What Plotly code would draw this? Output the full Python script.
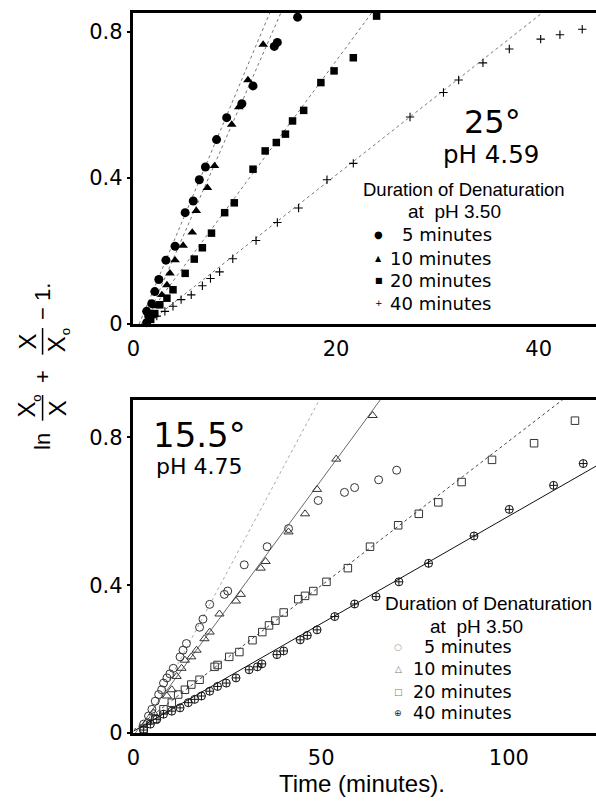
import plotly.graph_objects as go

W, H = 596, 810

# ---------------- 25 deg, pH 4.59 ----------------
t25_5min_x = [1.3, 1.5, 1.3, 1.8, 2.1, 2.5, 3.2, 4.1, 5.1, 5.9, 6.5, 7.1, 8.2, 9.2, 10.7, 11.8, 13.9, 14.2, 16.2, 17.3]
t25_5min_y = [0.004, 0.022, 0.035, 0.056, 0.089, 0.122, 0.175, 0.213, 0.305, 0.337, 0.395, 0.43, 0.505, 0.565, 0.603, 0.652, 0.76, 0.771, 0.84, 0.855]

t25_10min_x = [1.8, 2.3, 2.8, 3.3, 3.6, 4.1, 4.9, 5.8, 6.2, 7.3, 8.0, 9.7, 10.4, 11.3, 12.8]
t25_10min_y = [0.022, 0.049, 0.08, 0.107, 0.139, 0.175, 0.215, 0.251, 0.31, 0.373, 0.433, 0.546, 0.594, 0.668, 0.765]

t25_20min_x = [1.7, 2.1, 2.6, 3.3, 3.9, 5.1, 6.0, 6.8, 7.7, 9.0, 9.95, 11.8, 13.0, 14.1, 15.0, 15.7, 16.8, 18.5, 19.8, 21.7, 24.0]
t25_20min_y = [0.013, 0.029, 0.053, 0.071, 0.094, 0.139, 0.178, 0.209, 0.249, 0.305, 0.332, 0.424, 0.474, 0.497, 0.52, 0.556, 0.585, 0.661, 0.693, 0.729, 0.843]

t25_40min_x = [2.3, 3.1, 3.9, 4.7, 5.7, 6.8, 7.6, 8.5, 9.8, 12.1, 14.2, 16.3, 19.1, 21.7, 27.3, 30.6, 32.1, 34.5, 37.1, 40.2, 42.1, 44.3]
t25_40min_y = [0.022, 0.035, 0.049, 0.067, 0.08, 0.105, 0.125, 0.143, 0.179, 0.229, 0.278, 0.318, 0.395, 0.44, 0.567, 0.634, 0.668, 0.715, 0.753, 0.78, 0.792, 0.807]

# straight-line fits (end points)
fit25_5min_x, fit25_5min_y = [0.55, 13.5], [0.0, 0.855]
fit25_10min_x, fit25_10min_y = [1.1, 14.6], [0.0, 0.855]
fit25_20min_x, fit25_20min_y = [0.76, 23.6], [0.0, 0.855]
fit25_40min_x, fit25_40min_y = [1.3, 40.5], [0.0, 0.855]

# ---------------- 15.5 deg, pH 4.75 ----------------
t155_5min_x = [2.7, 4.0, 4.9, 5.8, 6.7, 7.5, 8.0, 8.9, 9.7, 10.6, 12.4, 13.2, 14.1, 17.6, 18.5, 20.3, 24.2, 25.1, 29.5, 35.6, 41.3, 49.2, 56.2, 58.9, 65.3, 70.1]
t155_5min_y = [0.024, 0.046, 0.064, 0.086, 0.104, 0.117, 0.135, 0.149, 0.16, 0.175, 0.206, 0.224, 0.242, 0.286, 0.308, 0.348, 0.375, 0.384, 0.455, 0.504, 0.553, 0.629, 0.651, 0.664, 0.685, 0.711]

t155_10min_x = [3.6, 5.3, 8.9, 10.2, 11.5, 12.8, 13.7, 15.4, 16.8, 18.9, 20.3, 22.9, 27.3, 28.6, 33.9, 35.2, 41.3, 45.7, 48.9, 54.0, 63.7]
t155_10min_y = [0.029, 0.055, 0.1, 0.117, 0.153, 0.175, 0.197, 0.206, 0.224, 0.255, 0.273, 0.322, 0.357, 0.375, 0.446, 0.464, 0.544, 0.593, 0.659, 0.741, 0.859]

t155_20min_x = [2.7, 5.8, 8.0, 10.2, 11.9, 13.7, 15.4, 17.6, 21.6, 22.4, 25.5, 28.2, 31.7, 34.3, 36.1, 37.8, 40.0, 43.9, 45.7, 47.9, 51.4, 57.1, 63.0, 70.5, 76.0, 81.2, 87.4, 95.5, 106.7, 117.6]
t155_20min_y = [0.011, 0.037, 0.064, 0.082, 0.104, 0.117, 0.131, 0.144, 0.179, 0.184, 0.206, 0.219, 0.251, 0.273, 0.291, 0.304, 0.326, 0.362, 0.371, 0.384, 0.409, 0.446, 0.504, 0.562, 0.593, 0.624, 0.679, 0.739, 0.784, 0.845]

t155_40min_x = [2.7, 4.5, 6.2, 8.0, 10.2, 12.4, 14.6, 16.3, 18.1, 20.3, 22.4, 24.7, 27.3, 30.8, 33.0, 34.2, 38.2, 40.0, 44.4, 46.3, 48.9, 53.6, 58.9, 64.6, 70.7, 78.6, 90.7, 100.1, 111.9, 119.8]
t155_40min_y = [0.008, 0.024, 0.037, 0.051, 0.059, 0.068, 0.082, 0.091, 0.1, 0.113, 0.126, 0.135, 0.149, 0.171, 0.179, 0.187, 0.212, 0.222, 0.252, 0.264, 0.279, 0.315, 0.349, 0.369, 0.409, 0.459, 0.533, 0.605, 0.670, 0.729]

fit155_5min_x, fit155_5min_y = [2.0, 49.7], [0.0, 0.905]
fit155_10min_x, fit155_10min_y = [0.5, 66.0], [0.0, 0.905]
fit155_20min_x, fit155_20min_y = [0.0, 114.6], [0.008, 0.904]
fit155_40min_x, fit155_40min_y = [0.0, 123.2], [0.005, 0.722]

# axis ticks
top_xticks = [0, 20, 40]
bot_xticks = [0, 50, 100]
y_ticks = [0, 0.4, 0.8]
y_ticktext = ["0", "0.4", "0.8"]

legend_names = ["5 minutes", "10 minutes", "20 minutes", "40 minutes"]

NUM_FONT = "DejaVu Sans"
TXT_FONT = "Liberation Sans"


def px_x(p):
    return p / W


def px_y(p):
    return 1 - p / H


fig = go.Figure()


def add_fit(x, y, xa, ya, color, dash, width=1.0):
    fig.add_trace(go.Scatter(x=x, y=y, mode="lines", xaxis=xa, yaxis=ya,
                             line=dict(color=color, width=width, dash=dash),
                             showlegend=False, hoverinfo="skip"))


def add_pts(x, y, xa, ya, symbol, size, name, color="black", lw=1.0):
    fig.add_trace(go.Scatter(x=x, y=y, mode="markers", xaxis=xa, yaxis=ya, name=name,
                             marker=dict(symbol=symbol, size=size, color=color,
                                         line=dict(color=color, width=lw)),
                             cliponaxis=False, showlegend=False))


# top panel
add_fit(fit25_5min_x, fit25_5min_y, "x", "y", "#777", "dot")
add_fit(fit25_10min_x, fit25_10min_y, "x", "y", "#777", "dot")
add_fit(fit25_20min_x, fit25_20min_y, "x", "y", "#777", "dot")
add_fit(fit25_40min_x, fit25_40min_y, "x", "y", "#777", "dot")
add_pts(t25_5min_x, t25_5min_y, "x", "y", "circle", 9, legend_names[0], lw=0)
add_pts(t25_10min_x, t25_10min_y, "x", "y", "triangle-up", 8.5, legend_names[1], lw=0)
add_pts(t25_20min_x, t25_20min_y, "x", "y", "square", 7.5, legend_names[2], lw=0)
add_pts(t25_40min_x, t25_40min_y, "x", "y", "cross-thin-open", 6, legend_names[3], lw=1.1)

# bottom panel
add_fit(fit155_5min_x, fit155_5min_y, "x2", "y2", "#aaa", "dot")
add_fit(fit155_10min_x, fit155_10min_y, "x2", "y2", "#444", "solid", 0.8)
add_fit(fit155_20min_x, fit155_20min_y, "x2", "y2", "#444", "dot")
add_fit(fit155_40min_x, fit155_40min_y, "x2", "y2", "#111", "solid", 1.0)
add_pts(t155_5min_x, t155_5min_y, "x2", "y2", "circle-open", 8, legend_names[0], color="#333", lw=1)
add_pts(t155_10min_x, t155_10min_y, "x2", "y2", "triangle-up-open", 8, legend_names[1], color="#333", lw=1)
add_pts(t155_20min_x, t155_20min_y, "x2", "y2", "square-open", 7.5, legend_names[2], color="#333", lw=1)
add_pts(t155_40min_x, t155_40min_y, "x2", "y2", "circle-cross-open", 8, legend_names[3], color="#111", lw=1)

axis_common = dict(showline=True, linecolor="black", linewidth=2.5, showgrid=False,
                   zeroline=False, tickfont=dict(family=NUM_FONT, size=21, color="black"))

x_dom = [px_x(128), 1.0]
fig.update_layout(
    width=W, height=H, margin=dict(l=0, r=0, t=0, b=0),
    paper_bgcolor="white", plot_bgcolor="white", showlegend=False,
    xaxis=dict(domain=x_dom, range=[0, 45.66], tickvals=top_xticks, ticks="",
               ticklabelstandoff=4, mirror=True, anchor="y", **axis_common),
    yaxis=dict(domain=[px_y(329), px_y(13)], range=[0, 0.852], tickvals=y_ticks,
               ticktext=y_ticktext, ticks="outside", ticklen=4, tickwidth=1.5,
               tickcolor="black", anchor="x", **axis_common),
    xaxis2=dict(domain=x_dom, range=[0, 123.2], tickvals=bot_xticks, ticks="",
                ticklabelstandoff=4, mirror=True, anchor="y2", **axis_common),
    yaxis2=dict(domain=[px_y(744), px_y(406)], range=[0, 0.901], tickvals=y_ticks,
                ticktext=y_ticktext, ticks="outside", ticklen=4, tickwidth=1.5,
                tickcolor="black", anchor="x2", **axis_common),
)

annotations = []
shapes = []


def ann(text, x, y, size, family=NUM_FONT, xanchor="center", angle=0, color="black"):
    annotations.append(dict(text=text, x=px_x(x), y=px_y(y), xref="paper", yref="paper",
                            showarrow=False, xanchor=xanchor, yanchor="middle",
                            textangle=angle, font=dict(family=family, size=size, color=color)))


# panel headings
ann("25°", 491, 124, 32)
ann("pH 4.59", 490, 157, 24.5)
ann("15.5°", 195, 442, 34)
ann("pH 4.75", 195, 474, 22)

# top legend
ann("Duration of Denaturation", 462, 192, 18.5, TXT_FONT)
ann("at  pH 3.50", 453, 215, 19, TXT_FONT)
top_glyphs = ["●", "▲", "■", "+"]
top_glyph_sizes = [10, 8, 8, 9]
top_rows = [238, 262, 285, 308]
for g, gs, name, ry in zip(top_glyphs, top_glyph_sizes, legend_names, top_rows):
    ann(g, 376, ry, gs)
    ann(name, 493, ry, 18, xanchor="right")

# bottom legend
ann("Duration of Denaturation", 487, 613, 19, TXT_FONT)
ann("at  pH 3.50", 475, 636, 19, TXT_FONT)
bot_glyphs = ["○", "△", "□", "⊕"]
bot_glyph_colors = ["#999", "#777", "#777", "#222"]
bot_rows = [657, 679, 702, 724]
for g, gc, name, ry in zip(bot_glyphs, bot_glyph_colors, legend_names, bot_rows):
    ann(g, 396, ry, 9, color=gc)
    ann(name, 513, ry, 17.5, xanchor="right")

# x-axis title
ann("Time (minutes).", 359, 795, 24, TXT_FONT)

# y-axis title: ln X0/X + X/X0 - 1, written bottom to top (rotated)
ann("ln", 36, 448, 22, TXT_FONT, angle=-90)
ann("X", 20, 416, 24, TXT_FONT, angle=-90)     # numerator X
ann("o", 29, 404, 13, TXT_FONT, angle=-90)     # its subscript
ann("X", 51, 414, 24, TXT_FONT, angle=-90)
ann("+", 36, 382, 22, TXT_FONT, angle=-90)
ann("X", 21, 347, 24, TXT_FONT, angle=-90)
ann("X", 50, 349, 24, TXT_FONT, angle=-90)     # denominator X
ann("o", 59, 337, 13, TXT_FONT, angle=-90)     # its subscript
ann("− 1.", 36, 306, 22, TXT_FONT, angle=-90)
for y0, y1 in [(401, 427), (333, 360)]:
    shapes.append(dict(type="line", xref="paper", yref="paper",
                       x0=px_x(36), x1=px_x(36), y0=px_y(y0), y1=px_y(y1),
                       line=dict(color="black", width=1.5)))

fig.update_layout(annotations=annotations, shapes=shapes)
fig.write_html("out.html")
